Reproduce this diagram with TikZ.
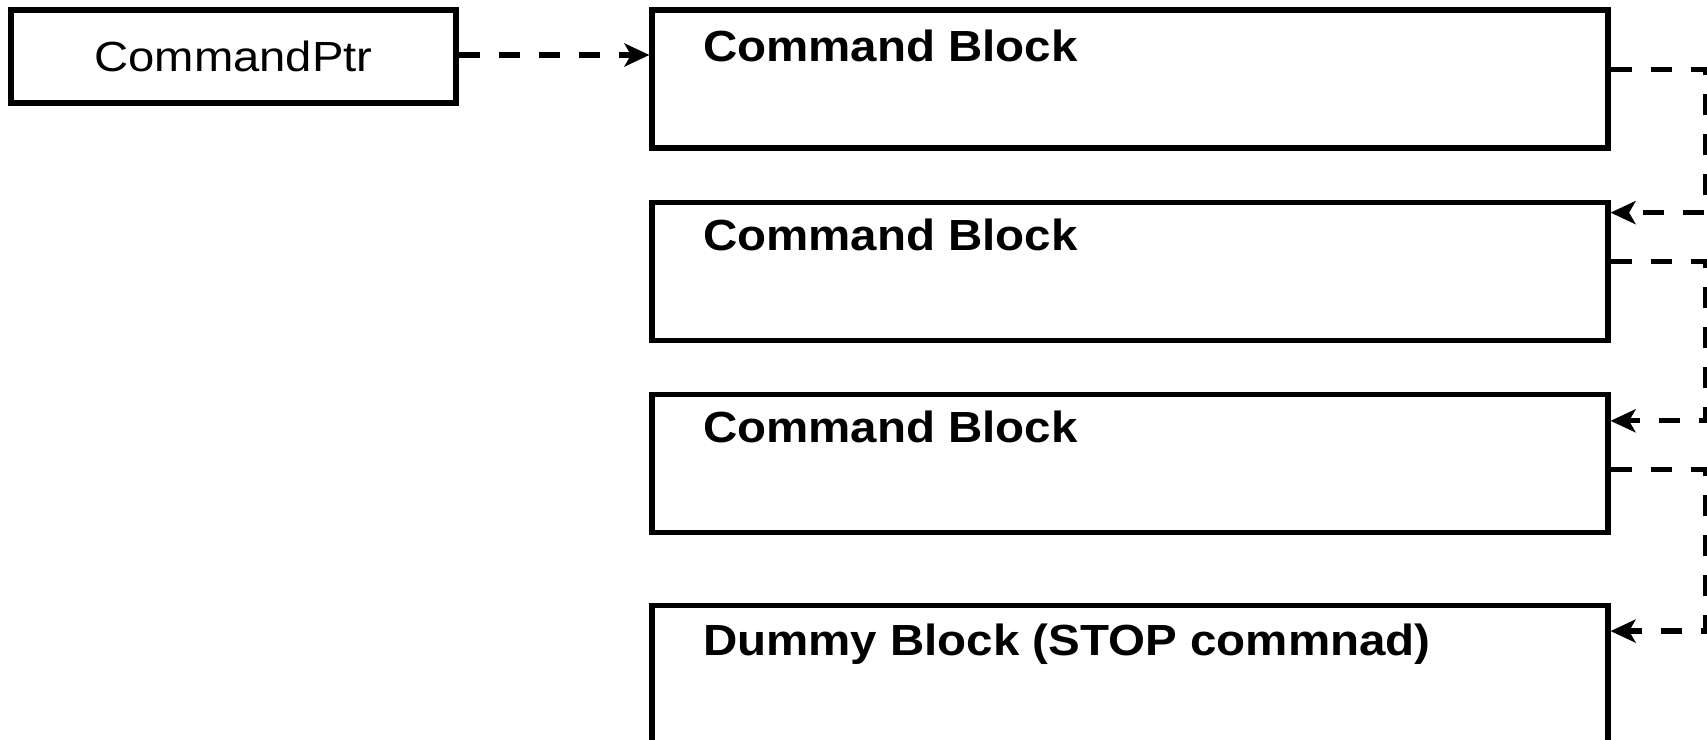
\documentclass[tikz,border=0pt]{standalone}
\usepackage{fontspec}
\setmainfont{Liberation Sans}
\usetikzlibrary{arrows.meta, positioning}

% wide lettering as in the original drawing
\newcommand{\widetext}[1]{\scalebox{1.09}[1]{#1}}

\begin{document}
\begin{tikzpicture}[
        x=0.02cm, y=-0.02cm,
        line width=3pt,
        node distance=0.98cm,
        ptrbox/.style={rectangle, draw, minimum width=8.9cm, minimum height=1.86cm, inner sep=0pt,
            font=\fontsize{24}{28}\selectfont},
        blockbox/.style={rectangle, draw, minimum width=19.12cm, minimum height=2.76cm, inner sep=0pt},
        blocklabel/.style={anchor=base west, inner sep=0pt, font=\fontsize{24.8}{29}\selectfont\bfseries},
        link/.style={dash pattern=on 0.42cm off 0.38cm,
            -{Stealth[length=0.5cm, width=0.46cm, inset=0.13cm]}}
    ]
        \useasboundingbox (0,0) rectangle (1707,740);

        % Pointer
        \node[ptrbox] (cptr) at (233.5,56.5) {\scalebox{1.12}[1]{CommandPtr}};

        % Command blocks
        \node[blockbox] (cmd1) at (1130,79) {};
        \node[blockbox, below=of cmd1] (cmd2) {};
        \node[blockbox, below=of cmd2] (cmd3) {};
        \node[blockbox, below=1.36cm of cmd3] (dummy) {};

        % Block titles
        \node[blocklabel] (t1) at ([xshift=1.02cm, yshift=-1.08cm]cmd1.north west) {\widetext{Command Block}};
        \node[blocklabel] (t2) at ([xshift=1.02cm, yshift=-1.02cm]cmd2.north west) {\widetext{Command Block}};
        \node[blocklabel] (t3) at ([xshift=1.02cm, yshift=-1.02cm]cmd3.north west) {\widetext{Command Block}};
        \node[blocklabel] (t4) at ([xshift=1.02cm, yshift=-1.04cm]dummy.north west) {\widetext{Dummy Block (STOP commnad)}};

        % Arrows
        \draw[link] ([yshift=0.03cm]cptr.east) -- ([yshift=0.03cm]cptr.east -| cmd1.west);
        \draw[link] ([yshift=-1.24cm]cmd1.north east) -- ++(1.9cm,0) |- ([yshift=-0.26cm]cmd2.north east);
        \draw[link] ([yshift=-1.24cm]cmd2.north east) -- ++(1.9cm,0) |- ([yshift=-0.58cm]cmd3.north east);
        \draw[link] ([yshift=-1.56cm]cmd3.north east) -- ++(1.9cm,0) |- ([yshift=-0.56cm]dummy.north east);
    \end{tikzpicture}
\end{document}
